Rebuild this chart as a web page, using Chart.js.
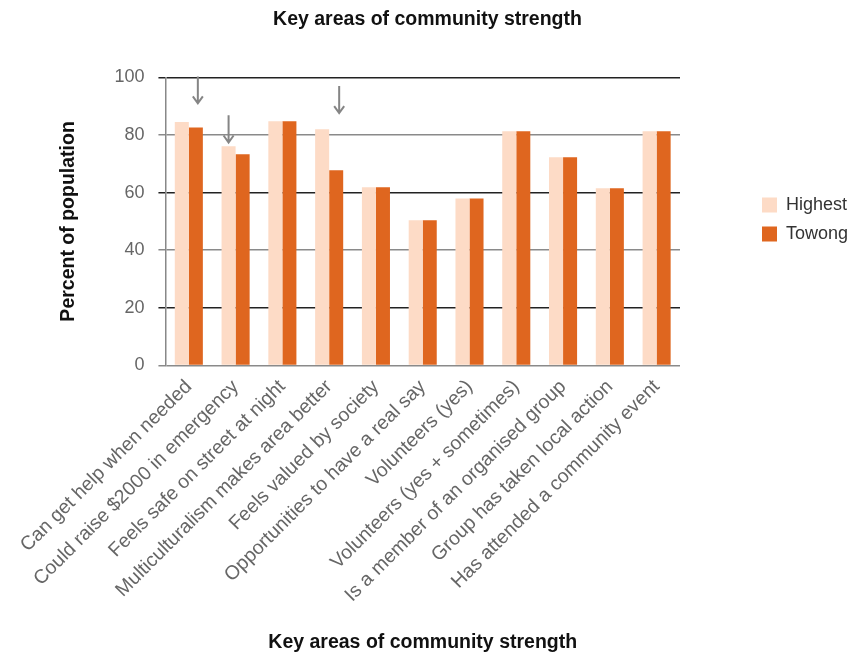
<!DOCTYPE html>
<html lang="en">
<head>
  <meta charset="UTF-8" />
  <title>Key areas of community strength</title>
  <style>
    body { margin: 0; padding: 0; background: #fff; }
    .wrap { width: 855px; height: 655px; position: relative; }
  </style>
  <script src="https://cdn.jsdelivr.net/npm/chart.js"></script>
</head>
<body>
  <div class="wrap"><canvas id="chartStrength" width="855" height="655"></canvas></div>
  <script>
    const categories = [
      'Can get help when needed',
      'Could raise $2000 in emergency',
      'Feels safe on street at night',
      'Multiculturalism makes area better',
      'Feels valued by society',
      'Opportunities to have a real say',
      'Volunteers (yes)',
      'Volunteers (yes + sometimes)',
      'Is a member of an organised group',
      'Group has taken local action',
      'Has attended a community event'
    ];
    const highest = [84.5, 76.1, 84.8, 82.0, 61.9, 50.4, 58.0, 81.3, 72.3, 61.5, 81.3];
    const towong  = [82.6, 73.3, 84.8, 67.8, 61.9, 50.4, 58.0, 81.3, 72.3, 61.5, 81.3];
    const yTicks = [0, 20, 40, 60, 80, 100];

    // down arrows over a few bars: category, dataset, start and end value
    const arrows = [
      { cat: 0, ds: 1, dx: 2, from: 100.3, to: 91 },
      { cat: 1, ds: 0, dx: 0, from: 86.9, to: 77.4 },
      { cat: 3, ds: 1, dx: 3, from: 97, to: 87.6 }
    ];

    const FONT = 'Liberation Sans, Arial, sans-serif';

    const arrowPlugin = {
      id: 'arrows',
      afterDatasetsDraw(chart) {
        const c = chart.ctx;
        const y = chart.scales.y;
        c.save();
        c.strokeStyle = '#858585';
        c.lineWidth = 2;
        arrows.forEach(a => {
          const x = chart.getDatasetMeta(a.ds).data[a.cat].x + a.dx;
          const y1 = y.getPixelForValue(a.from);
          const y2 = y.getPixelForValue(a.to);
          c.beginPath();
          c.moveTo(x, y1);
          c.lineTo(x, y2);
          c.moveTo(x - 5, y2 - 7);
          c.lineTo(x, y2);
          c.lineTo(x + 5, y2 - 7);
          c.stroke();
        });
        c.restore();
      }
    };

    // wider legend box, items pushed away from the plot and centred on it
    const legendWidth = 175;
    const legendInset = 71;
    const legendSpace = {
      id: 'legendSpace',
      beforeLayout(chart) {
        const lg = chart.legend;
        if (lg && !lg._wide) {
          const fit = lg.fit;
          lg.fit = function () { fit.call(this); this.width = legendWidth; };
          lg._wide = true;
        }
      },
      afterLayout(chart) {
        const lg = chart.legend;
        if (!lg) return;
        lg.left += legendInset;
        lg.top = chart.chartArea.top - 2;
        lg.bottom = chart.chartArea.bottom - 2;
      }
    };

    new Chart(document.getElementById('chartStrength'), {
      type: 'bar',
      data: {
        labels: categories,
        datasets: [
          { label: 'Highest', data: highest, backgroundColor: '#fddbc6' },
          { label: 'Towong', data: towong, backgroundColor: '#df661f' }
        ]
      },
      options: {
        responsive: false,
        animation: false,
        datasets: { bar: { barPercentage: 1, categoryPercentage: 0.6 } },
        layout: { padding: { left: 0, right: 0, top: 0, bottom: 1 } },
        scales: {
          x: {
            grid: { display: false },
            border: { display: false },
            ticks: {
              color: '#666',
              font: { family: FONT, size: 19.5 },
              minRotation: 45, maxRotation: 45, autoSkip: false, padding: 2
            },
            title: {
              display: true,
              text: 'Key areas of community strength',
              color: '#111',
              font: { family: FONT, size: 19.5, weight: 'bold' },
              padding: { top: 22, bottom: 0 }
            }
          },
          y: {
            min: 0, max: 100,
            afterBuildTicks: s => { s.ticks = yTicks.map(v => ({ value: v })); },
            grid: {
              color: ctx => (ctx.index % 2 ? '#222' : '#8a8a8a'),
              lineWidth: 1.5,
              tickLength: 7
            },
            border: { display: true, color: '#888', width: 1.5 },
            ticks: {
              color: '#666',
              font: { family: FONT, size: 18 },
              padding: 14
            },
            title: {
              display: true,
              text: 'Percent of population',
              color: '#111',
              font: { family: FONT, size: 19.5, weight: 'bold' },
              padding: { top: 57, bottom: 20 }
            }
          }
        },
        plugins: {
          title: {
            display: true,
            text: 'Key areas of community strength',
            color: '#111',
            font: { family: FONT, size: 19.5, weight: 'bold' },
            padding: { top: 8, bottom: 46 }
          },
          legend: {
            position: 'right',
            labels: {
              color: '#333',
              font: { family: FONT, size: 18 },
              boxWidth: 15, boxHeight: 15, padding: 11
            }
          },
          tooltip: { enabled: false }
        }
      },
      plugins: [arrowPlugin, legendSpace]
    });
  </script>
</body>
</html>
